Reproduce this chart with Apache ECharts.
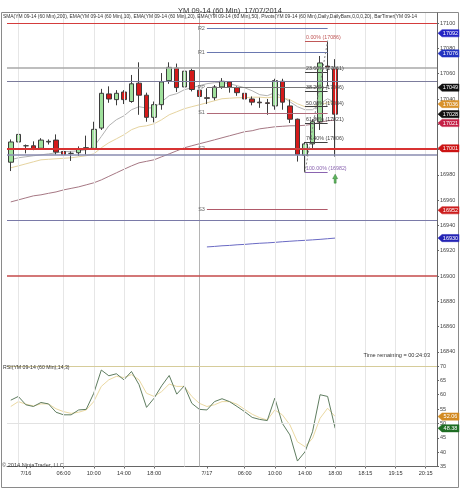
<!DOCTYPE html>
<html>
<head>
<meta charset="utf-8">
<title>YM 09-14 (60 Min) 17/07/2014</title>
<script src="https://cdn.jsdelivr.net/npm/echarts@6.0.0/dist/echarts.min.js"></script>
<style>
  html, body { margin: 0; padding: 0; background: #fff; }
  #chart { width: 460px; height: 489px; }
</style>
</head>
<body>
<div id="chart"></div>
<script>
// slots on the time axis (bars + empty future space)
const slotCount = 57;
const xTickSlots = [2, 7, 11, 15, 19, 26, 31, 35, 39, 43, 47, 51, 55];
const xTickLabels = ['7/16', '06:00', '10:00', '14:00', '18:00', '7/17', '06:00', '10:00', '14:00', '18:00', '18:15', '19:15', '20:15'];
const gridSlots = [1, 7, 11, 15, 19, 23, 31, 35, 39, 43, 47, 51, 55];
const daySlots = [25];

// 60 min bars: [open, close, low, high]
const candles = [
  [16990, 17006, 16983, 17008],
  [17006, 17012, 17005, 17016],
  [17003, 17003, 16997, 17004],
  [17003, 17000.5, 16999.5, 17006.5],
  [17001, 17007.5, 17000, 17009],
  [17006, 17006.5, 17004, 17008],
  [17007.5, 16998, 16996, 17012],
  [16998.5, 16996, 16993, 16999],
  [16997, 16997, 16991, 16998.5],
  [16997.5, 17000.5, 16995, 17002.5],
  [17001, 17001.5, 16996, 17011],
  [17001, 17016, 17000, 17022],
  [17017, 17044.5, 17015.5, 17048],
  [17044, 17040, 17037, 17050],
  [17039.5, 17044.5, 17035, 17047],
  [17045.5, 17039.5, 17036, 17047],
  [17038, 17052, 17037, 17059],
  [17052.5, 17043, 17027.5, 17069],
  [17043, 17025.5, 17022, 17045],
  [17025.5, 17035.5, 17021.5, 17038],
  [17035.5, 17053.5, 17031.5, 17060.5],
  [17054.5, 17065, 17052, 17069],
  [17064.5, 17049, 17045.5, 17068],
  [17049.5, 17062, 17047, 17068.5],
  [17062.5, 17047.5, 17046, 17064],
  [17047, 17042, 17040.5, 17050],
  [17041, 17040.5, 17036, 17048.5],
  [17041, 17049.5, 17039, 17051],
  [17049.5, 17054, 17048, 17056.5],
  [17053.5, 17049.5, 17045, 17054],
  [17049, 17045, 17042.5, 17050],
  [17044.5, 17040, 17038.5, 17045],
  [17040, 17037.5, 17035, 17042],
  [17037.5, 17037, 17033, 17041],
  [17037, 17036.5, 17027.5, 17040],
  [17034.5, 17054.5, 17031.5, 17056],
  [17054, 17037.5, 17031.5, 17056],
  [17034.5, 17024, 17021, 17039.5],
  [17024, 16996, 16990.5, 17024.5],
  [16995.5, 17004.5, 16982, 17006],
  [17004.5, 17022, 17001, 17024],
  [17022, 17068.5, 17015.5, 17074],
  [17066, 17065, 17050, 17086],
  [17064.5, 17028, 16994.5, 17071.5]
];

const ema10 = [16991.9, 16993.5, 16994.3, 16995.1, 16995.8, 16996.6, 16997.4, 16998.2, 16998.6, 16999.0,
  16999.8, 17002.2, 17010.3, 17018.8, 17023.6, 17026.7, 17031.5, 17033.9, 17032.8, 17033.1,
  17037.8, 17042.6, 17044.2, 17047.3, 17048.9, 17050.5, 17052.1, 17052.9, 17053.1, 17052.1,
  17050.5, 17048.9, 17046.5, 17043.4, 17042.6, 17045.0, 17041.8, 17037.8, 17033.9, 17031.5,
  17031.5, 17036.2, 17040.2, 17037.0];
const ema20 = [16985.6, 16987.1, 16988.7, 16990.3, 16991.9, 16992.3, 16992.7, 16993.1, 16993.5, 16994.3,
  16995.1, 16996.6, 17001.4, 17005.4, 17008.5, 17011.7, 17015.7, 17018.0, 17018.8, 17020.4,
  17023.6, 17027.5, 17029.9, 17032.3, 17033.9, 17035.4, 17037.0, 17038.6, 17040.2, 17040.6,
  17041.0, 17041.0, 17041.4, 17041.4, 17041.0, 17041.8, 17041.0, 17039.4, 17036.2, 17033.9,
  17033.9, 17035.4, 17037.0, 17037.0];
const ema50 = [16958.6, 16960.2, 16961.8, 16963.4, 16964.2, 16965.4, 16966.5, 16968.1, 16969.3, 16970.5,
  16972.1, 16973.7, 16976.0, 16978.8, 16981.6, 16984.4, 16987.1, 16989.5, 16990.7, 16991.9,
  16994.3, 16996.6, 16999.0, 17001.4, 17003.0, 17004.6, 17006.1, 17007.7, 17009.3, 17010.9,
  17012.5, 17014.1, 17014.9, 17016.4, 17017.2, 17018.0, 17018.4, 17018.8, 17018.8, 17019.2,
  17020.0, 17021.6, 17022.8, 17023.2];
const sma200Start = 26;
const sma200 = [16923.0, 16923.4, 16923.9, 16924.2, 16924.7, 16925.0, 16925.5, 16925.9, 16926.2,
  16926.6, 16927.1, 16927.5, 16927.9, 16928.2, 16928.6, 16929.0, 16929.5, 16930.0];

// user drawn horizontal lines
const levelLines = [17100, 17065, 17054, 17001, 16996, 16944, 16900];
const levelColors = ['#d43c3c', '#a8a8a8', '#7c7c9c', '#d83232', '#8a8cb0', '#7a7aa8', '#c44a4a'];
const levelWidths = [1.2, 1.5, 1.2, 2, 1.5, 1.2, 1.5];

// daily pivots
const pivotNames = ['R2', 'R1', 'PP', 'S1', 'S2', 'S3'];
const pivotValues = [17096, 17077, 17049, 17029, 17001, 16953];
const pivotColors = ['#6a78b0', '#6a78b0', '#777777', '#b06a78', '#c04848', '#b05a6a'];
const pivotFrom = 26, pivotTo = 42;

// fibonacci retracement
const fibPct = ['0.00%', '23.60%', '38.20%', '50.00%', '61.80%', '76.40%', '100.00%'];
const fibValues = [17086, 17061, 17046, 17034, 17021, 17006, 16982];
const fibColors = ['#c05858', '#404040', '#404040', '#404040', '#404040', '#404040', '#8a64b0'];
const fibFrom = 39, fibTo = 42;

// right axis tags
const tagValues = [17092, 17076, 17049, 17036, 17028, 17021, 17001, 16952, 16930];
const tagColors = ['#2424c4', '#2434c0', '#111111', '#d8922c', '#111111', '#c42046', '#cc1414', '#cc1e1e', '#2424b4'];
const priceTicks = [16840, 16860, 16880, 16900, 16920, 16940, 16960, 16980, 17000, 17020, 17040, 17060, 17080, 17100];

// RSI(14,3)
const rsi = [58.1, 59.4, 56.5, 55.9, 57.3, 56.8, 53.9, 53.0, 53.0, 54.7,
  54.9, 60.5, 68.6, 66.6, 67.3, 65.2, 68.1, 63.5, 55.6, 58.8,
  63.1, 66.7, 60.2, 63.1, 57.0, 54.9, 54.7, 57.6, 58.6, 57.6,
  55.9, 54.1, 52.1, 51.4, 51.0, 58.8, 50.0, 46.0, 36.9, 40.1,
  47.1, 60.0, 59.4, 48.3];
const rsiAvg = [55.9, 57.6, 56.7, 56.1, 56.8, 56.8, 55.1, 54.1, 53.5, 53.9,
  54.7, 57.6, 62.9, 65.2, 66.4, 66.0, 67.0, 65.2, 60.5, 59.4,
  61.1, 63.7, 62.9, 62.9, 59.4, 57.0, 55.9, 56.5, 57.6, 57.6,
  56.7, 54.9, 53.2, 52.0, 51.2, 54.7, 53.0, 49.5, 43.6, 41.9,
  44.8, 51.8, 55.3, 52.4];
const rsiTicks = [35, 40, 45, 50, 55, 60, 65, 70];
const rsiTagValues = [52.4, 48.3];
const rsiTagTexts = ['52.06', '48.38'];
const rsiTagColors = ['#d28a22', '#1f6e24'];

const FONT = 'Liberation Sans';
const categories = Array.from({ length: slotCount }, (_, i) => String(i));
const tickLabelOf = {};
xTickSlots.forEach((s, i) => { tickLabelOf[s] = xTickLabels[i]; });
const nulls = Array(slotCount).fill(null);

function tagSeries(xi, yi, values, texts, colors) {
  return {
    type: 'custom',
    xAxisIndex: xi,
    yAxisIndex: yi,
    silent: true,
    z: 20,
    data: values.map(v => [0, v]),
    renderItem: (params, api) => {
      const y = api.coord([0, api.value(1)])[1];
      const cs = params.coordSys;
      const x0 = cs.x + cs.width + 1;
      const h = 3.6;
      const c = colors[params.dataIndex];
      return {
        type: 'group',
        children: [
          { type: 'polygon', shape: { points: [[x0, y], [x0 + 4, y - h], [x0 + 21, y - h], [x0 + 21, y + h], [x0 + 4, y + h]] },
            style: { fill: c, stroke: c, lineWidth: 0.5 } },
          { type: 'text', style: { text: texts[params.dataIndex], x: x0 + 12.5, y: y + 0.3, fill: '#fff',
            fontSize: 5.5, fontFamily: FONT, align: 'center', verticalAlign: 'middle' } }
        ]
      };
    }
  };
}

function vGrid(xi, yi) {
  return {
    type: 'line', xAxisIndex: xi, yAxisIndex: yi, data: nulls, silent: true, z: 0, symbol: 'none',
    markLine: {
      silent: true, symbol: ['none', 'none'], label: { show: false }, animation: false,
      data: gridSlots.map(s => ({ xAxis: s, lineStyle: { color: '#e6e6e6', width: 1, type: 'solid' } }))
        .concat(daySlots.map(s => ({ xAxis: s, lineStyle: { color: '#b4b4b4', width: 1, type: 'solid' } })))
    }
  };
}

const chart = echarts.init(document.getElementById('chart'), null, { renderer: 'canvas' });

const option = {
  animation: false,
  backgroundColor: '#ffffff',
  textStyle: { fontFamily: FONT },
  title: {
    text: 'YM 09-14 (60 Min)  17/07/2014',
    left: 'center', top: 2,
    textStyle: { fontSize: 7.5, fontWeight: 'normal', color: '#333', fontFamily: FONT }
  },
  graphic: [
    { type: 'rect', shape: { x: 1.5, y: 12.5, width: 457, height: 475 }, style: { fill: 'none', stroke: '#8a8a8a', lineWidth: 1 }, silent: true, z: 0 },
    { type: 'text', left: 3, top: 14.5, silent: true, z: 30,
      style: { text: 'SMA(YM 09-14 (60 Min),200), EMA(YM 09-14 (60 Min),10), EMA(YM 09-14 (60 Min),20), EMA(YM 09-14 (60 Min),50), Pivots(YM 09-14 (60 Min),Daily,DailyBars,0,0,0,20), BarTimer(YM 09-14',
        fontSize: 4.9, fill: '#333', fontFamily: FONT } },
    { type: 'text', left: 3, top: 365.5, silent: true, z: 30,
      style: { text: 'RSI(YM 09-14 (60 Min),14,3)', fontSize: 5.2, fill: '#333', fontFamily: FONT } },
    { type: 'text', right: 30, top: 352, silent: true, z: 30,
      style: { text: 'Time remaining = 00:24:03', fontSize: 5.6, fill: '#333', fontFamily: FONT } },
    { type: 'text', left: 2, top: 462, silent: true, z: 30,
      style: { text: '\u00a9 2014 NinjaTrader, LLC', fontSize: 5.6, fill: '#444', fontFamily: FONT } }
  ],
  grid: [
    { left: 7, right: 23, top: 13, height: 349 },
    { left: 7, right: 23, top: 362, height: 104.5 }
  ],
  xAxis: [
    { type: 'category', gridIndex: 0, data: categories, boundaryGap: true,
      axisLine: { show: false }, axisTick: { show: false }, axisLabel: { show: false }, splitLine: { show: false } },
    { type: 'category', gridIndex: 1, data: categories, boundaryGap: true,
      axisLine: { show: true, lineStyle: { color: '#666', width: 1 } },
      axisTick: { show: true, alignWithLabel: true, length: 2, interval: i => tickLabelOf[i] !== undefined, lineStyle: { color: '#666' } },
      axisLabel: { show: true, interval: i => tickLabelOf[i] !== undefined, formatter: v => tickLabelOf[+v] || '',
        fontSize: 5.6, color: '#333', margin: 4, fontFamily: FONT },
      splitLine: { show: false } }
  ],
  yAxis: [
    { type: 'value', gridIndex: 0, position: 'right', min: 16832, max: 17108, scale: true,
      axisLine: { show: true, lineStyle: { color: '#666', width: 1 } },
      axisTick: { show: true, length: 2, customValues: priceTicks, lineStyle: { color: '#666' } },
      axisLabel: { show: true, customValues: priceTicks, formatter: v => String(v), fontSize: 5.5, color: '#444', margin: 3, fontFamily: FONT },
      splitLine: { show: false } },
    { type: 'value', gridIndex: 1, position: 'right', min: 35, max: 71.4,
      axisLine: { show: true, lineStyle: { color: '#666', width: 1 } },
      axisTick: { show: true, length: 2, customValues: rsiTicks, lineStyle: { color: '#666' } },
      axisLabel: { show: true, customValues: rsiTicks, formatter: v => String(v), fontSize: 5.5, color: '#444', margin: 3, fontFamily: FONT },
      splitLine: { show: false } }
  ],
  series: [
    vGrid(0, 0),
    vGrid(1, 1),
    {
      name: 'levels', type: 'line', xAxisIndex: 0, yAxisIndex: 0, data: nulls, silent: true, z: 1, symbol: 'none',
      markLine: {
        silent: true, symbol: ['none', 'none'], label: { show: false }, animation: false,
        data: levelLines.map((v, i) => ({ yAxis: v, lineStyle: { color: levelColors[i], width: levelWidths[i], type: 'solid' } }))
          .concat(pivotValues.map((v, i) => ([
            { coord: [pivotFrom, v], lineStyle: { color: pivotColors[i], width: 1, type: 'solid' },
              label: { show: true, position: 'start', formatter: pivotNames[i], fontSize: 5.5, color: '#666', distance: 2, fontFamily: FONT } },
            { coord: [pivotTo, v] }
          ])))
      }
    },
    {
      name: 'Price', type: 'candlestick', xAxisIndex: 0, yAxisIndex: 0, data: candles, barWidth: 5, z: 3,
      itemStyle: { color: '#9fe09c', color0: '#d41a1a', borderColor: '#3c3c3c', borderColor0: '#3c3c3c', borderWidth: 1 }
    },
    { name: 'EMA10', type: 'line', xAxisIndex: 0, yAxisIndex: 0, data: ema10, symbol: 'none', z: 2,
      lineStyle: { color: '#b2b2b2', width: 1 } },
    { name: 'EMA20', type: 'line', xAxisIndex: 0, yAxisIndex: 0, data: ema20, symbol: 'none', z: 2,
      lineStyle: { color: '#e6d4a0', width: 1 } },
    { name: 'EMA50', type: 'line', xAxisIndex: 0, yAxisIndex: 0, data: ema50, symbol: 'none', z: 2,
      lineStyle: { color: '#a67884', width: 1 } },
    { name: 'SMA200', type: 'line', xAxisIndex: 0, yAxisIndex: 0,
      data: Array(sma200Start).fill(null).concat(sma200), symbol: 'none', z: 2,
      lineStyle: { color: '#6a6ac4', width: 1 } },
    {
      name: 'fib', type: 'line', xAxisIndex: 0, yAxisIndex: 0, data: nulls, silent: true, z: 4, symbol: 'none',
      markLine: {
        silent: true, symbol: ['none', 'none'], label: { show: false }, animation: false,
        data: fibValues.map((v, i) => ([
          { coord: [fibFrom, v], lineStyle: { color: fibColors[i], width: 1, type: 'solid' },
            label: { show: true, position: 'insideStartTop', formatter: fibPct[i] + ' (' + v + ')', fontSize: 5.3,
              color: fibColors[i], distance: 1, fontFamily: FONT } },
          { coord: [fibTo, v] }
        ])).concat([[
          { coord: [fibFrom, fibValues[6]], lineStyle: { color: '#888', width: 1, type: [2, 2] } },
          { coord: [fibTo, fibValues[0]] }
        ]])
      }
    },
    { name: 'signal', type: 'scatter', xAxisIndex: 0, yAxisIndex: 0, data: [[43, 16977]], z: 5,
      symbol: 'path://M5,0 L10,5 L7,5 L7,10 L3,10 L3,5 L0,5 Z', symbolSize: [5, 9],
      itemStyle: { color: '#3aa53a', borderColor: '#1e6e1e', borderWidth: 0.5 } },
    tagSeries(0, 0, tagValues, tagValues.map(String), tagColors),
    {
      name: 'RSI', type: 'line', xAxisIndex: 1, yAxisIndex: 1, data: rsi, symbol: 'none', z: 3,
      lineStyle: { color: '#5f7d60', width: 1 },
      markLine: {
        silent: true, symbol: ['none', 'none'], label: { show: false }, animation: false,
        data: [
          { yAxis: 70, lineStyle: { color: '#d6cc9a', width: 1, type: 'solid' } },
          { yAxis: 50, lineStyle: { color: '#e2e2e2', width: 1, type: 'solid' } }
        ]
      }
    },
    { name: 'Avg', type: 'line', xAxisIndex: 1, yAxisIndex: 1, data: rsiAvg, symbol: 'none', z: 2,
      lineStyle: { color: '#ebd9a2', width: 1 } },
    tagSeries(1, 1, rsiTagValues, rsiTagTexts, rsiTagColors)
  ]
};

chart.setOption(option);
window.addEventListener('resize', function () {
  chart.resize();
});
</script>
</body>
</html>
